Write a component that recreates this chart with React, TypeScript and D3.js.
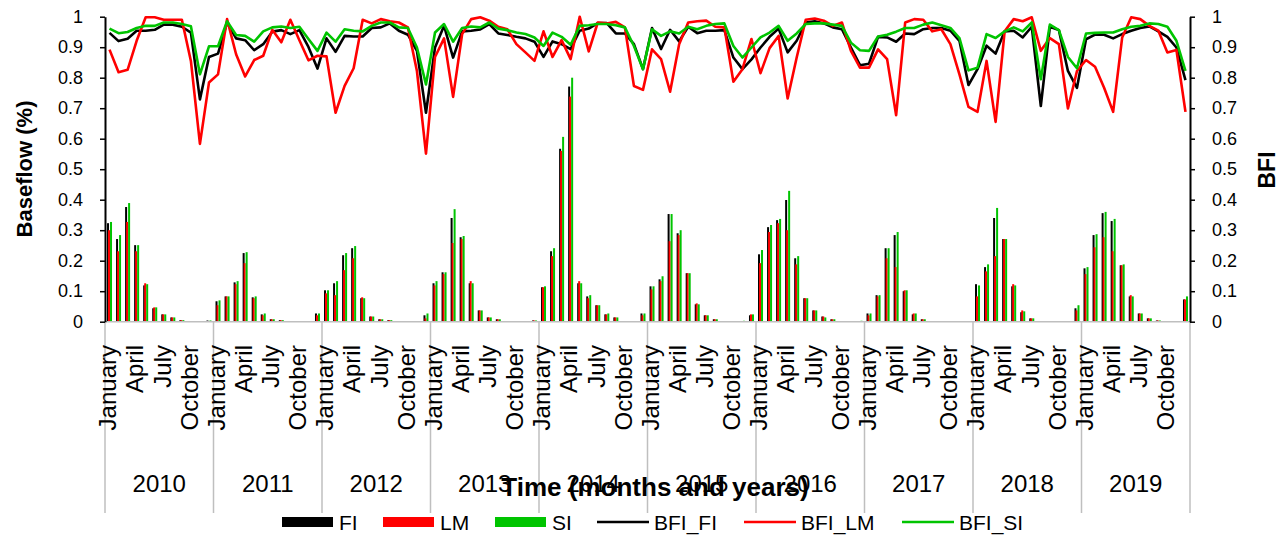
import React, { useEffect, useRef } from "react";
import * as d3 from "d3";

const YEARS = ["2010", "2011", "2012", "2013", "2014", "2015", "2016", "2017", "2018", "2019"];
const MONTH_LABELS = ["January", "April", "July", "October"];
const MONTH_LABEL_IDX = [0, 3, 6, 9];
const Y_TICKS = [0, 0.1, 0.2, 0.3, 0.4, 0.5, 0.6, 0.7, 0.8, 0.9, 1];

// Monthly baseflow (bars)
const FI = [
  0.323, 0.271, 0.376, 0.251, 0.119, 0.044, 0.024, 0.014, 0.005, 0.001, 0, 0.004,
  0.067, 0.083, 0.129, 0.225, 0.080, 0.024, 0.008, 0.005, 0, 0, 0, 0.027,
  0.103, 0.126, 0.218, 0.241, 0.077, 0.017, 0.008, 0.005, 0, 0, 0, 0.021,
  0.126, 0.162, 0.340, 0.277, 0.126, 0.037, 0.014, 0.008, 0, 0, 0, 0.004,
  0.113, 0.231, 0.567, 0.771, 0.126, 0.083, 0.054, 0.024, 0.014, 0, 0, 0.027,
  0.116, 0.139, 0.353, 0.290, 0.159, 0.057, 0.021, 0.008, 0, 0, 0, 0.021,
  0.221, 0.310, 0.333, 0.399, 0.208, 0.077, 0.037, 0.017, 0.008, 0, 0, 0,
  0.027, 0.087, 0.241, 0.284, 0.100, 0.024, 0.008, 0, 0, 0, 0, 0,
  0.123, 0.179, 0.340, 0.271, 0.116, 0.031, 0.011, 0, 0, 0, 0, 0.044,
  0.175, 0.284, 0.356, 0.330, 0.185, 0.083, 0.027, 0.011, 0.004, 0, 0, 0.073,
];
const LM = [
  0.300, 0.231, 0.327, 0.231, 0.126, 0.047, 0.024, 0.014, 0.005, 0.001, 0, 0.002,
  0.054, 0.083, 0.123, 0.192, 0.077, 0.021, 0.008, 0.005, 0, 0, 0, 0.021,
  0.093, 0.087, 0.169, 0.208, 0.080, 0.017, 0.008, 0.005, 0, 0, 0, 0.011,
  0.119, 0.156, 0.258, 0.271, 0.133, 0.037, 0.014, 0.008, 0, 0, 0, 0.004,
  0.113, 0.215, 0.560, 0.738, 0.133, 0.077, 0.054, 0.024, 0.014, 0, 0, 0.021,
  0.106, 0.133, 0.264, 0.284, 0.159, 0.060, 0.021, 0.008, 0, 0, 0, 0.024,
  0.192, 0.294, 0.323, 0.300, 0.188, 0.077, 0.037, 0.017, 0.008, 0, 0, 0,
  0.021, 0.083, 0.208, 0.179, 0.103, 0.027, 0.008, 0, 0, 0, 0, 0,
  0.083, 0.165, 0.215, 0.271, 0.123, 0.037, 0.011, 0, 0, 0, 0, 0.037,
  0.156, 0.244, 0.277, 0.231, 0.185, 0.087, 0.027, 0.011, 0.004, 0, 0, 0.073,
];
const SI = [
  0.327, 0.284, 0.389, 0.251, 0.123, 0.047, 0.024, 0.014, 0.005, 0.001, 0, 0.004,
  0.070, 0.083, 0.133, 0.228, 0.083, 0.027, 0.008, 0.005, 0, 0, 0, 0.027,
  0.103, 0.133, 0.225, 0.248, 0.077, 0.017, 0.008, 0.005, 0, 0, 0, 0.027,
  0.133, 0.162, 0.369, 0.281, 0.126, 0.037, 0.014, 0.008, 0, 0, 0, 0.004,
  0.116, 0.241, 0.606, 0.800, 0.126, 0.087, 0.054, 0.027, 0.014, 0, 0, 0.027,
  0.116, 0.149, 0.353, 0.300, 0.159, 0.057, 0.021, 0.008, 0, 0, 0.003, 0.024,
  0.235, 0.317, 0.337, 0.429, 0.215, 0.077, 0.037, 0.014, 0.008, 0, 0, 0.003,
  0.027, 0.087, 0.241, 0.294, 0.103, 0.027, 0.008, 0, 0, 0, 0, 0,
  0.119, 0.188, 0.373, 0.271, 0.119, 0.034, 0.011, 0, 0, 0, 0, 0.054,
  0.179, 0.287, 0.360, 0.337, 0.188, 0.083, 0.027, 0.011, 0.004, 0, 0, 0.083,
];

// Baseflow index (lines, right axis)
const BFI_FI = [
  0.947, 0.920, 0.928, 0.954, 0.954, 0.957, 0.974, 0.974, 0.967, 0.948, 0.729, 0.868,
  0.879, 0.981, 0.929, 0.923, 0.890, 0.910, 0.951, 0.956, 0.943, 0.956, 0.901, 0.830,
  0.929, 0.885, 0.937, 0.935, 0.935, 0.963, 0.965, 0.978, 0.954, 0.941, 0.888, 0.685,
  0.899, 0.970, 0.866, 0.952, 0.954, 0.958, 0.976, 0.945, 0.940, 0.934, 0.929, 0.918,
  0.868, 0.919, 0.910, 0.894, 0.954, 0.961, 0.979, 0.979, 0.945, 0.945, 0.910, 0.828,
  0.963, 0.894, 0.957, 0.919, 0.967, 0.946, 0.954, 0.954, 0.956, 0.866, 0.828, 0.860,
  0.899, 0.934, 0.961, 0.883, 0.921, 0.981, 0.985, 0.978, 0.965, 0.959, 0.899, 0.841,
  0.846, 0.934, 0.932, 0.918, 0.945, 0.943, 0.959, 0.963, 0.963, 0.954, 0.921, 0.776,
  0.828, 0.905, 0.879, 0.952, 0.954, 0.932, 0.967, 0.707, 0.967, 0.956, 0.822, 0.767,
  0.926, 0.941, 0.941, 0.929, 0.943, 0.954, 0.963, 0.968, 0.952, 0.934, 0.899, 0.792,
];
const BFI_LM = [
  0.892, 0.818, 0.826, 0.921, 0.998, 0.998, 0.990, 0.990, 0.990, 0.855, 0.583, 0.784,
  0.811, 0.992, 0.877, 0.804, 0.858, 0.872, 0.957, 0.916, 0.990, 0.923, 0.857, 0.872,
  0.870, 0.685, 0.773, 0.831, 0.990, 0.978, 0.992, 0.985, 0.981, 0.965, 0.822, 0.551,
  0.868, 0.929, 0.737, 0.943, 0.992, 0.998, 0.987, 0.967, 0.959, 0.910, 0.883, 0.855,
  0.952, 0.868, 0.923, 0.861, 1.000, 0.886, 0.981, 0.978, 0.983, 0.965, 0.773, 0.760,
  0.893, 0.861, 0.754, 0.910, 0.981, 0.985, 0.987, 0.967, 0.965, 0.787, 0.828, 0.927,
  0.815, 0.897, 0.937, 0.732, 0.866, 0.990, 0.994, 0.987, 0.970, 0.981, 0.888, 0.833,
  0.833, 0.893, 0.861, 0.677, 0.981, 0.992, 0.990, 0.952, 0.959, 0.910, 0.811, 0.704,
  0.688, 0.855, 0.655, 0.952, 0.992, 0.985, 0.998, 0.888, 0.930, 0.910, 0.699, 0.822,
  0.858, 0.836, 0.767, 0.688, 0.932, 0.998, 0.992, 0.970, 0.954, 0.883, 0.891, 0.688,
];
const BFI_SI = [
  0.961, 0.946, 0.950, 0.963, 0.970, 0.970, 0.981, 0.981, 0.976, 0.969, 0.811, 0.903,
  0.903, 0.985, 0.940, 0.937, 0.918, 0.952, 0.965, 0.968, 0.963, 0.967, 0.927, 0.888,
  0.948, 0.918, 0.959, 0.954, 0.952, 0.970, 0.981, 0.981, 0.965, 0.963, 0.899, 0.778,
  0.948, 0.976, 0.918, 0.963, 0.968, 0.965, 0.981, 0.961, 0.956, 0.948, 0.943, 0.932,
  0.904, 0.948, 0.934, 0.908, 0.970, 0.972, 0.976, 0.976, 0.972, 0.965, 0.904, 0.828,
  0.959, 0.937, 0.952, 0.945, 0.967, 0.959, 0.970, 0.976, 0.978, 0.904, 0.866, 0.899,
  0.932, 0.948, 0.970, 0.921, 0.945, 0.976, 0.978, 0.978, 0.974, 0.970, 0.915, 0.890,
  0.888, 0.935, 0.941, 0.951, 0.963, 0.963, 0.974, 0.981, 0.972, 0.963, 0.930, 0.824,
  0.833, 0.943, 0.930, 0.952, 0.965, 0.952, 0.981, 0.795, 0.974, 0.956, 0.868, 0.831,
  0.945, 0.947, 0.948, 0.948, 0.959, 0.967, 0.970, 0.978, 0.976, 0.967, 0.921, 0.822,
];

const FONT = "Arial, 'Liberation Sans', sans-serif";
const BLACK = "#000000";
const RED = "#ff0000";
const GREEN = "#00c400";

export default function App() {
  const leftRef = useRef<SVGGElement>(null);
  const rightRef = useRef<SVGGElement>(null);

  const W = 1286;
  const H = 536;
  const x0 = 105;
  const x1 = 1190;
  const yTop = 16.7;
  const yBot = 321.7;

  const idx = d3.range(FI.length);
  const x = d3.scaleBand<number>().domain(idx).range([x0, x1]);
  const bw = x.bandwidth();
  const cx = (i: number) => (x(i) as number) + bw / 2;
  const yearX = d3.scaleBand<string>().domain(YEARS).range([x0, x1]);
  const y = d3.scaleLinear().domain([0, 1]).range([yBot, yTop]);
  const yR = d3.scaleLinear().domain([0, 1]).range([yBot, yTop]);

  const barSeries = [
    { data: FI, color: BLACK, off: -2.5 },
    { data: LM, color: RED, off: -1.5 },
    { data: SI, color: GREEN, off: 0.5 },
  ];
  const lineSeries = [
    { data: BFI_FI, color: BLACK },
    { data: BFI_LM, color: RED },
    { data: BFI_SI, color: GREEN },
  ];
  const line = d3
    .line<number>()
    .x((_, i) => cx(i))
    .y((d) => yR(d));

  useEffect(() => {
    const fmt = (d: d3.NumberValue) => {
      const v = +d;
      return v === 0 ? "0" : v === 1 ? "1" : d3.format(".1f")(v);
    };
    const style = (g: d3.Selection<SVGGElement, unknown, null, undefined>) => {
      g.select(".domain").attr("stroke", "#000").attr("stroke-width", 2);
      g.selectAll(".tick line").attr("stroke", "#000").attr("stroke-width", 1.5);
      g.selectAll(".tick text")
        .attr("fill", "#000")
        .style("font-size", "18px")
        .style("font-family", FONT);
    };
    if (leftRef.current) {
      const g = d3.select(leftRef.current);
      g.call(d3.axisLeft(y).tickValues(Y_TICKS).tickSize(5).tickSizeOuter(0).tickPadding(17).tickFormat(fmt));
      style(g);
    }
    if (rightRef.current) {
      const g = d3.select(rightRef.current);
      g.call(d3.axisRight(yR).tickValues(Y_TICKS).tickSize(5).tickSizeOuter(0).tickPadding(17).tickFormat(fmt));
      style(g);
    }
  }, []);

  const legendItems = [
    { label: "FI", color: BLACK, kind: "rect", x: 282 },
    { label: "LM", color: RED, kind: "rect", x: 383 },
    { label: "SI", color: GREEN, kind: "rect", x: 495 },
    { label: "BFI_FI", color: BLACK, kind: "line", x: 597 },
    { label: "BFI_LM", color: RED, kind: "line", x: 744 },
    { label: "BFI_SI", color: GREEN, kind: "line", x: 902 },
  ];
  const legY = 522;

  return (
    <svg
      width={W}
      height={H}
      viewBox={`0 0 ${W} ${H}`}
      style={{ position: "absolute", left: 0, top: 0, background: "#fff" }}
    >
      <rect x={0} y={0} width={W} height={H} fill="#fff" />

      {/* bars */}
      <g>
        {barSeries.map((s) =>
          s.data.map((v, i) =>
            v > 0 ? (
              <rect
                key={`${s.color}-${i}`}
                x={cx(i) + s.off}
                y={y(v)}
                width={2}
                height={y(0) - y(v)}
                fill={s.color}
              />
            ) : null
          )
        )}
      </g>

      {/* x axis line and year separators */}
      <line x1={x0} x2={x1} y1={yBot} y2={yBot} stroke="#bfbfbf" strokeWidth={1.5} />
      {d3.range(YEARS.length + 1).map((k) => {
        const xx = k < YEARS.length ? (yearX(YEARS[k]) as number) : x1;
        return <line key={k} x1={xx} x2={xx} y1={yBot} y2={513} stroke="#bfbfbf" strokeWidth={1.5} />;
      })}

      {/* lines */}
      {lineSeries.map((s) => (
        <path
          key={s.color}
          d={line(s.data) || ""}
          fill="none"
          stroke={s.color}
          strokeWidth={2.6}
          strokeLinejoin="round"
        />
      ))}

      {/* axes */}
      <g ref={leftRef} transform={`translate(${x0},0)`} />
      <g ref={rightRef} transform={`translate(${x1},0)`} />

      {/* month labels */}
      {YEARS.map((yr, k) =>
        MONTH_LABEL_IDX.map((m, j) => {
          const i = k * 12 + m;
          const px = cx(i);
          return (
            <text
              key={`${yr}-${m}`}
              transform={`translate(${px},345) rotate(-90)`}
              textAnchor="end"
              dy="0.28em"
              fontFamily={FONT}
              fontSize={24}
              fill="#000"
            >
              {MONTH_LABELS[j]}
            </text>
          );
        })
      )}

      {/* year labels */}
      {YEARS.map((yr) => (
        <text
          key={yr}
          x={(yearX(yr) as number) + yearX.bandwidth() / 2}
          y={492}
          textAnchor="middle"
          fontFamily={FONT}
          fontSize={24}
          fill="#000"
        >
          {yr}
        </text>
      ))}

      {/* axis titles */}
      <text
        x={655}
        y={496}
        textAnchor="middle"
        fontFamily={FONT}
        fontSize={26}
        fontWeight="bold"
        fill="#000"
      >
        Time (months and years)
      </text>
      <text
        transform={`translate(32,169) rotate(-90)`}
        textAnchor="middle"
        fontFamily={FONT}
        fontSize={22}
        fontWeight="bold"
        fill="#000"
      >
        Baseflow (%)
      </text>
      <text
        transform={`translate(1275,170) rotate(-90)`}
        textAnchor="middle"
        fontFamily={FONT}
        fontSize={23}
        fontWeight="bold"
        fill="#000"
      >
        BFI
      </text>

      {/* legend */}
      {legendItems.map((it) => (
        <g key={it.label}>
          {it.kind === "rect" ? (
            <rect x={it.x} y={legY - 5} width={51} height={10} fill={it.color} />
          ) : (
            <line x1={it.x} x2={it.x + 52} y1={legY} y2={legY} stroke={it.color} strokeWidth={2.6} />
          )}
          <text
            x={it.x + 57}
            y={legY}
            dy="0.36em"
            fontFamily={FONT}
            fontSize={21}
            fill="#000"
          >
            {it.label}
          </text>
        </g>
      ))}
    </svg>
  );
}
